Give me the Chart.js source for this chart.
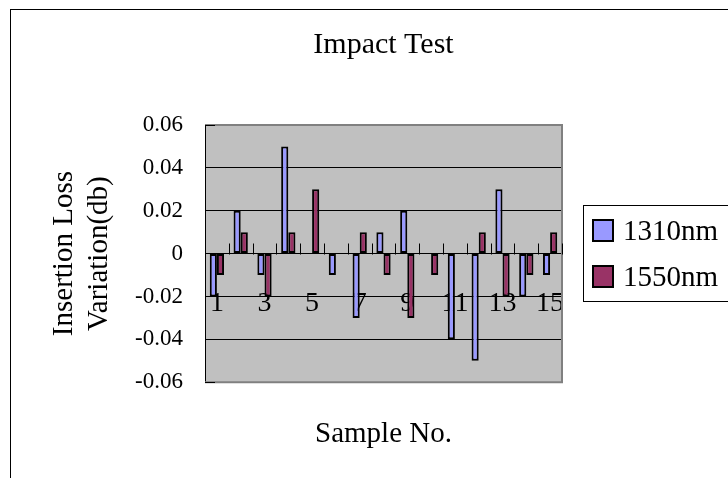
<!DOCTYPE html>
<html>
<head>
<meta charset="utf-8">
<script src="https://cdn.jsdelivr.net/npm/chart.js@4"></script>
<style>
  body { margin: 0; background: #fff; }
  canvas { display: block; }
</style>
</head>
<body>
<canvas id="chart" width="728" height="478"></canvas>
<script>
const samples = ["1", "2", "3", "4", "5", "6", "7", "8", "9", "10", "11", "12", "13", "14", "15"];
const loss1310 = [-0.02, 0.02, -0.01, 0.05, 0, -0.01, -0.03, 0.01, 0.02, 0, -0.04, -0.05, 0.03, -0.02, -0.01];
const loss1550 = [-0.01, 0.01, -0.02, 0.01, 0.03, 0, 0.01, -0.01, -0.03, -0.01, 0, 0.01, -0.02, -0.01, 0.01];
const yMin = -0.06, yMax = 0.06, yStep = 0.02;

const SERIF = "'Liberation Serif', 'Times New Roman', serif";

// white page, outer chart frame, grey plot area
const frame = {
  id: "frame",
  beforeDraw(chart) {
    const { ctx, chartArea: a } = chart;
    ctx.save();
    ctx.fillStyle = "#fff";
    ctx.fillRect(0, 0, chart.width, chart.height);
    ctx.strokeStyle = "#000";
    ctx.lineWidth = 1;
    ctx.strokeRect(10.5, 9.5, 900, 900);
    ctx.fillStyle = "#c0c0c0";
    ctx.fillRect(a.left, a.top, a.right - a.left, a.bottom - a.top);
    ctx.restore();
  },
  afterDraw(chart) {
    const { ctx, chartArea: a, scales } = chart;
    ctx.save();
    // grey plot border (top, right, bottom)
    ctx.strokeStyle = "#808080";
    ctx.lineWidth = 2;
    ctx.beginPath();
    ctx.moveTo(a.left, a.top);
    ctx.lineTo(a.right, a.top);
    ctx.lineTo(a.right, a.bottom);
    ctx.lineTo(a.left, a.bottom);
    ctx.stroke();

    // tick marks: between categories, up from the zero line
    ctx.strokeStyle = "#000";
    ctx.lineWidth = 1;
    const x = scales.x, y = scales.y;
    const zeroY = Math.round(y.getPixelForValue(0)) + 0.5;
    const half = (x.getPixelForValue(1) - x.getPixelForValue(0)) / 2;
    ctx.beginPath();
    for (let i = 0; i <= samples.length; i++) {
      const px = Math.round(x.getPixelForValue(i) - half) + 0.5;
      ctx.moveTo(px, zeroY - 11);
      ctx.lineTo(px, zeroY);
    }
    // inner ticks on value axis
    [yMin, yMax].forEach((v) => {
      const py = Math.round(y.getPixelForValue(v)) + 0.5;
      ctx.moveTo(a.left, py);
      ctx.lineTo(a.left + 10, py);
    });
    ctx.stroke();

    // legend
    const lx = 583.5, ly = 205.5;
    ctx.strokeRect(lx, ly, 200, 96);
    ctx.font = `29px ${SERIF}`;
    ctx.textBaseline = "middle";
    ctx.textAlign = "left";
    chart.data.datasets.forEach((ds, i) => {
      const cy = 231 + i * 46;
      ctx.fillStyle = ds.backgroundColor;
      ctx.fillRect(593, cy - 11, 20, 21);
      ctx.lineWidth = 2;
      ctx.strokeStyle = "#000";
      ctx.strokeRect(593, cy - 11, 20, 21);
      ctx.fillStyle = "#000";
      ctx.fillText(ds.label, 623, cy + 1);
    });
    ctx.restore();
  },
};

new Chart(document.getElementById("chart"), {
  type: "bar",
  data: {
    labels: samples,
    datasets: [
      {
        label: "1310nm",
        data: loss1310,
        backgroundColor: "#9999ff",
        borderColor: "#000",
        borderWidth: 2,
        borderSkipped: false,
        categoryPercentage: 0.6,
        barPercentage: 1,
      },
      {
        label: "1550nm",
        data: loss1550,
        backgroundColor: "#993366",
        borderColor: "#000",
        borderWidth: 2,
        borderSkipped: false,
        categoryPercentage: 0.6,
        barPercentage: 1,
      },
    ],
  },
  options: {
    responsive: false,
    animation: false,
    layout: { padding: { left: 0, top: 0, right: 166, bottom: 0 } },
    plugins: {
      legend: { display: false },
      tooltip: { enabled: false },
      title: {
        display: true,
        text: "Impact Test",
        fullSize: false,
        color: "#000",
        font: { family: SERIF, size: 30, weight: "normal" },
        padding: { top: 27, bottom: 62 },
      },
      subtitle: {
        display: true,
        position: "bottom",
        text: "Sample No.",
        fullSize: false,
        color: "#000",
        font: { family: SERIF, size: 29, weight: "normal" },
        padding: { top: 35, bottom: 26 },
      },
    },
    scales: {
      x: {
        position: { y: 0 },
        grid: { display: false, drawTicks: false },
        border: { display: true, color: "#000", width: 1 },
        ticks: {
          autoSkip: false,
          maxRotation: 0,
          minRotation: 0,
          padding: 33,
          color: "#000",
          font: { family: SERIF, size: 28 },
          callback: (v, i) => (i % 2 === 0 ? samples[i] : ""),
        },
      },
      y: {
        min: yMin,
        max: yMax,
        afterFit: (s) => { s.width = 205; },
        grid: {
          drawTicks: false,
          color: (c) => (Math.abs(Math.abs(c.tick.value) - yMax) < 1e-9 ? "rgba(0,0,0,0)" : "#000"),
          lineWidth: 1,
        },
        border: { display: true, color: "#000", width: 1 },
        ticks: {
          stepSize: yStep,
          padding: 22,
          color: "#000",
          font: { family: SERIF, size: 23 },
          callback: (v) => (Math.abs(v) < 1e-9 ? "0" : v.toFixed(2)),
        },
        title: {
          display: true,
          text: ["Insertion Loss", "Variation(db)"],
          color: "#000",
          font: { family: SERIF, size: 29 },
          padding: { top: 47 },
        },
      },
    },
  },
  plugins: [frame],
});
</script>
</body>
</html>
